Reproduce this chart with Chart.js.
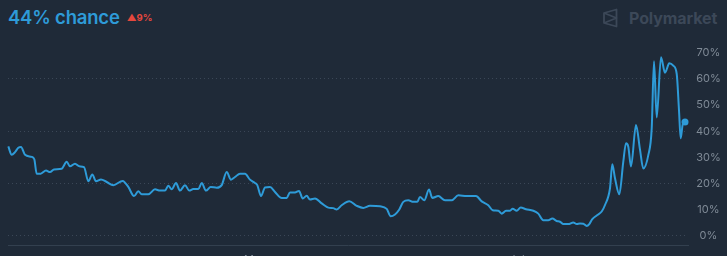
<!DOCTYPE html>
<html>
<head>
<meta charset="utf-8">
<script src="https://cdn.jsdelivr.net/npm/chart.js@4.4.1/dist/chart.umd.min.js"></script>
<style>
  html, body { margin: 0; padding: 0; background: #1f2a38; overflow: hidden; }
  body { width: 727px; height: 256px; position: relative; font-family: Inter, "Open Sans", sans-serif; }
  #chart { position: absolute; left: 0; top: 0; }
  .head { position: absolute; left: 8px; top: 6px; white-space: nowrap; }
  .pct { color: #2e9bd8; font-size: 18.5px; font-weight: 600; letter-spacing: -0.2px; }
  .chg { color: #e5473d; font-size: 9.5px; font-weight: 700; margin-left: 7px; position: relative; top: -3px; }
  .logo { position: absolute; left: 602px; top: 8px; display: flex; align-items: center; color: #3c4858; }
  .logo span { font-size: 16px; font-weight: 700; margin-left: 11px; letter-spacing: -0.1px; }
</style>
</head>
<body>
<div class="head"><span class="pct">44% chance</span><span class="chg">▲9%</span></div>
<div class="logo">
  <svg width="16" height="20" viewBox="0 0 16 20" fill="none" stroke="#3c4858" stroke-width="1.8" stroke-linejoin="round">
    <path d="M2 5 L14.5 1.5 L14.5 18.5 L2 15 Z"/>
    <path d="M2 5 L14.5 10 L2 15"/>
  </svg>
  <span>Polymarket</span>
</div>
<canvas id="chart" width="727" height="274"></canvas>
<script>
// timeline position (left edge = 0) and price in %
const xs = [0.3, 3.7, 7, 10.3, 13, 17, 23.7, 26.3, 28.7, 32.7, 38, 42, 46, 53.7, 58.7, 62, 67, 71.3, 76,
  80.3, 84.3, 88, 93, 98.7, 105.3, 114.7, 120.3, 126, 130.3, 133.7, 140.3, 147, 152, 157, 160.3, 163.7,
  168, 172, 177, 181.3, 185.3, 190.3, 193.7, 198, 202.7, 208.7, 213.7, 218.7, 223, 227, 232, 237, 242,
  247, 249.3, 253, 257, 262, 267, 273.7, 278.7, 282, 287, 291, 294.7, 298.7, 302, 307, 313.7, 320.3,
  325.3, 328.7, 333.7, 341.3, 348.7, 355.3, 362, 372, 378.7, 382.7, 387, 391.3, 395.3, 400.3, 405.3,
  409.3, 412, 416.3, 421, 424.3, 430.3, 437, 443.7, 450.3, 458.7, 468, 473.7, 480.3, 484.7, 490.3,
  493.7, 498, 502, 504.7, 508.7, 512.7, 518, 525.3, 530.3, 535.3, 540.3, 544.3, 548.7, 552, 555.3,
  560.3, 565.3, 568.7, 572, 575.3, 578.7, 581.3, 584.3, 588.7, 593.7, 597, 602, 604.3, 607, 611.3,
  615.3, 618, 620.3, 623, 628, 632, 635.3, 640.3, 643.7, 646, 648.7, 653, 657, 661.3, 665.3, 668.7,
  671, 672.7, 674.7, 677, 679.7];
const pct = [34.2, 31, 32, 33.7, 34, 31, 30.2, 29.3, 23.8, 23.8, 25, 24.4, 25.4, 25.7, 28.3, 26.6, 27.6,
  26.6, 26.3, 20.9, 23.5, 20.9, 21.6, 20.6, 19.4, 21, 18.7, 15.2, 17.1, 15.9, 15.9, 17.8, 17.3, 17.3,
  19.2, 17.8, 20.2, 17.3, 19.4, 17.3, 17.9, 17.9, 20.2, 17.3, 18.7, 18.4, 19.4, 24.4, 21.5, 22.5, 23.8,
  23.8, 21.5, 20.2, 19.4, 15.2, 18.5, 18.7, 16.8, 14.5, 14.5, 16.6, 16.6, 17.2, 14.3, 15.3, 13.9, 14.3,
  12.4, 10.8, 10.6, 10.1, 11.7, 13.2, 11.5, 10.7, 11.5, 11.3, 10.3, 7.5, 8.2, 10.1, 13, 13.6, 13, 13,
  14.9, 13.6, 17.7, 14.5, 15.2, 13.6, 13.6, 15.5, 15.2, 15.2, 13.2, 11.7, 9.8, 9.6, 8.5, 9.6, 9.6, 10.4,
  9.6, 10.8, 10.2, 9.6, 8.5, 6, 6, 6.6, 5.7, 5.4, 4.5, 4.5, 5.1, 4.5, 4.7, 4.6, 3.8, 4.5, 6.4, 7.8, 9.3,
  11.8, 18.2, 27.4, 22, 15.9, 28.4, 35.4, 34.1, 26.5, 42.4, 33, 25.8, 30.9, 41, 66.8, 45.3, 68.3, 62.4,
  66, 65.1, 62, 48, 37.3, 42.6, 43.5];
const yTicks = [0, 10, 20, 30, 40, 50, 60, 70];
const yLabels = ['0%', '10%', '20%', '30%', '40%', '50%', '60%', '70%'];
const xTicks = [247, 509];
const xLabels = ['May', 'Jul'];

const blue = '#2e9bd8';
const last = pct.length - 1;

new Chart(document.getElementById('chart'), {
  type: 'line',
  data: {
    datasets: [{
      data: xs.map((x, i) => ({ x: x, y: pct[i] })),
      borderColor: blue,
      borderWidth: 2,
      backgroundColor: blue,
      cubicInterpolationMode: 'monotone',
      pointRadius: ctx => ctx.dataIndex === last ? 3.5 : 0,
      pointBorderWidth: 0,
      pointHoverRadius: 0,
      clip: false
    }]
  },
  options: {
    responsive: false,
    animation: false,
    layout: { padding: { left: 8, right: 0, top: 45, bottom: 8 } },
    plugins: { legend: { display: false }, tooltip: { enabled: false } },
    scales: {
      x: {
        type: 'linear',
        min: 0,
        max: 680,
        grid: { display: false, drawTicks: false },
        border: { display: true, color: '#33404f', width: 1 },
        afterBuildTicks: s => { s.ticks = xTicks.map(v => ({ value: v })); },
        afterFit: s => { s.height = 21; },
        ticks: {
          padding: 8,
          color: '#7f8a96',
          font: { family: 'Inter', size: 11 },
          maxRotation: 0,
          callback: v => xLabels[xTicks.indexOf(v)]
        }
      },
      y: {
        position: 'right',
        min: -3.5,
        max: 73,
        afterBuildTicks: s => { s.ticks = yTicks.map(v => ({ value: v })); },
        afterFit: s => { s.width = 39; },
        grid: {
          drawTicks: false,
          color: ctx => (ctx.tick && ctx.tick.value % 20 === 0) ? '#3b4757' : 'rgba(0,0,0,0)',
          lineWidth: 1
        },
        border: { display: false, dash: [1, 3] },
        ticks: {
          padding: 8,
          crossAlign: 'center',
          color: '#7f8a96',
          font: { family: 'Inter', size: 11 },
          callback: v => yLabels[yTicks.indexOf(v)]
        }
      }
    }
  }
});
</script>
</body>
</html>
